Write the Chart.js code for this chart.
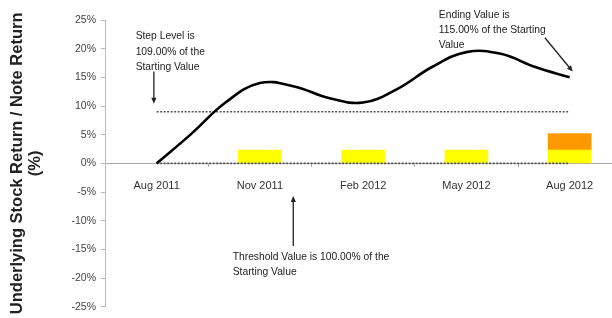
<!DOCTYPE html>
<html>
<head>
<meta charset="utf-8">
<script src="https://cdn.jsdelivr.net/npm/chart.js@4.4.1/dist/chart.umd.min.js"></script>
<style>
  html, body { margin: 0; padding: 0; background: #fff; }
</style>
</head>
<body>
<canvas id="chart" width="612" height="318"></canvas>
<script>
(function () {
    'use strict';

    // Monthly observation dates, Aug 2011 .. Aug 2012.
    var monthLabels = ['Aug 2011', 'Sep 2011', 'Oct 2011', 'Nov 2011', 'Dec 2011', 'Jan 2012',
        'Feb 2012', 'Mar 2012', 'Apr 2012', 'May 2012', 'Jun 2012', 'Jul 2012', 'Aug 2012'];
    // Underlying stock return (%).
    var stockReturn = [0, 5.1, 10.6, 14.0, 13.4, 11.4, 10.6, 13.0, 16.8, 19.4, 19.1, 16.8, 15.0];

    // Note return bars.
    var couponMonths = ['Nov 2011', 'Feb 2012', 'May 2012', 'Aug 2012'];
    var couponReturn = [2.3, 2.3, 2.3, 2.3];
    var stepMonths = ['Aug 2012'];
    var stepReturn = [[2.3, 5.2]];

    // Reference levels (%).
    var stepLevel = 9;
    var thresholdLevel = 0;

    var xTickLabels = ['Aug 2011', 'Nov 2011', 'Feb 2012', 'May 2012', 'Aug 2012'];
    var yTicks = [-25, -20, -15, -10, -5, 0, 5, 10, 15, 20, 25];

    var FONT = '"Liberation Sans", Arial, sans-serif';

    function idx(label) { return monthLabels.indexOf(label); }

    var linePoints = stockReturn.map(function (v, i) { return { x: i, y: v }; });
    var couponPoints = couponMonths.map(function (m, i) { return { x: idx(m), y: couponReturn[i] }; });
    var stepPoints = stepMonths.map(function (m, i) { return { x: idx(m), y: stepReturn[i] }; });
    var first = 0, last = monthLabels.length - 1;

    // Callout texts, anchored in data units (month index, %).
    var notes = [
        { x: -0.61, y: 22.1, lines: ['Step Level is', '109.00% of the', 'Starting Value'],
          arrow: [-0.08, 16.0, -0.08, 10.4] },
        { x: 8.2, y: 25.9, lines: ['Ending Value is', '115.00% of the Starting', 'Value'],
          arrow: [11.28, 21.9, 12.09, 16.0] },
        { x: 2.21, y: -16.3, lines: ['Threshold Value is 100.00% of the', 'Starting Value'],
          arrow: [3.97, -14.4, 3.97, -5.7] }
    ];

    function drawArrow(ctx, x1, y1, x2, y2) {
        var a = Math.atan2(y2 - y1, x2 - x1);
        ctx.beginPath();
        ctx.moveTo(x1, y1);
        ctx.lineTo(x2 - 4 * Math.cos(a), y2 - 4 * Math.sin(a));
        ctx.stroke();
        ctx.beginPath();
        ctx.moveTo(x2, y2);
        ctx.lineTo(x2 - 6 * Math.cos(a) + 2.6 * Math.sin(a), y2 - 6 * Math.sin(a) - 2.6 * Math.cos(a));
        ctx.lineTo(x2 - 6 * Math.cos(a) - 2.6 * Math.sin(a), y2 - 6 * Math.sin(a) + 2.6 * Math.cos(a));
        ctx.closePath();
        ctx.fill();
    }

    var calloutPlugin = {
        id: 'callouts',
        afterDraw: function (chart) {
            var ctx = chart.ctx, xs = chart.scales.x, ys = chart.scales.y;
            ctx.save();
            ctx.fillStyle = '#222';
            ctx.strokeStyle = '#222';
            ctx.lineWidth = 1.3;
            ctx.font = '10.3px ' + FONT;
            ctx.textBaseline = 'middle';
            ctx.textAlign = 'left';
            notes.forEach(function (n) {
                var px = xs.getPixelForValue(n.x), py = ys.getPixelForValue(n.y);
                n.lines.forEach(function (t, i) { ctx.fillText(t, px, py + i * 15.2); });
                drawArrow(ctx, xs.getPixelForValue(n.arrow[0]), ys.getPixelForValue(n.arrow[1]),
                    xs.getPixelForValue(n.arrow[2]), ys.getPixelForValue(n.arrow[3]));
            });
            ctx.restore();
        }
    };

    new Chart(document.getElementById('chart'), {
        data: {
            datasets: [{
                type: 'line',
                data: linePoints,
                borderColor: '#000',
                borderWidth: 2.6,
                pointRadius: 0,
                tension: 0.4,
                order: 0
            }, {
                type: 'line',
                data: [{ x: first, y: stepLevel }, { x: last, y: stepLevel }],
                borderColor: '#555',
                borderWidth: 1.6,
                borderDash: [2, 1.5],
                pointRadius: 0,
                order: 1
            }, {
                type: 'line',
                data: [{ x: first, y: thresholdLevel }, { x: last, y: thresholdLevel }],
                borderColor: '#555',
                borderWidth: 1.6,
                borderDash: [2, 1.5],
                pointRadius: 0,
                order: 1
            }, {
                type: 'bar',
                data: couponPoints,
                backgroundColor: '#ffff00',
                barThickness: 43,
                grouped: false,
                order: 2
            }, {
                type: 'bar',
                data: stepPoints,
                backgroundColor: '#ff9900',
                barThickness: 43,
                grouped: false,
                order: 2
            }]
        },
        plugins: [calloutPlugin],
        options: {
            responsive: false,
            animation: false,
            layout: { padding: { top: 20, right: 0, bottom: 10, left: 0 } },
            plugins: { legend: { display: false }, tooltip: { enabled: false } },
            scales: {
                x: {
                    type: 'linear',
                    position: { y: 0 },
                    offset: false,
                    min: -1.5,
                    max: 13.23,
                    afterFit: function (s) { s.height = 0; },
                    afterBuildTicks: function (s) {
                        var t = [];
                        xTickLabels.forEach(function (l) {
                            var i = idx(l);
                            t.push({ value: i - 1.5 });
                            t.push({ value: i });
                        });
                        s.ticks = t;
                    },
                    grid: {
                        offset: false,
                        drawOnChartArea: false,
                        tickLength: 3,
                        tickColor: function (c) {
                            return c.tick && xTickLabels.indexOf(monthLabels[c.tick.value]) >= 0 ? 'rgba(0,0,0,0)' : '#aaa';
                        }
                    },
                    border: { color: '#aaa', width: 1 },
                    ticks: {
                        autoSkip: false,
                        maxRotation: 0,
                        padding: 13,
                        color: '#333',
                        font: { family: FONT, size: 11 },
                        callback: function (v) {
                            var l = monthLabels[v];
                            return xTickLabels.indexOf(l) >= 0 ? l : '';
                        }
                    }
                },
                y: {
                    type: 'linear',
                    min: -25,
                    max: 25,
                    afterFit: function (s) { s.width = 105; },
                    afterBuildTicks: function (s) {
                        s.ticks = yTicks.map(function (v) { return { value: v }; });
                    },
                    grid: { drawOnChartArea: false, tickLength: 4, color: '#bbb' },
                    border: { color: '#bbb', width: 1 },
                    ticks: {
                        padding: 5,
                        color: '#444',
                        font: { family: FONT, size: 10.5 },
                        callback: function (v) { return v + '%'; }
                    },
                    title: {
                        display: true,
                        text: ['Underlying Stock Return / Note Return', '(%)'],
                        color: '#222',
                        font: { family: FONT, size: 16.5, weight: 'bold', lineHeight: 1.1 },
                        padding: { top: 8, bottom: 0 }
                    }
                }
            }
        }
    });
})();
</script>
</body>
</html>
